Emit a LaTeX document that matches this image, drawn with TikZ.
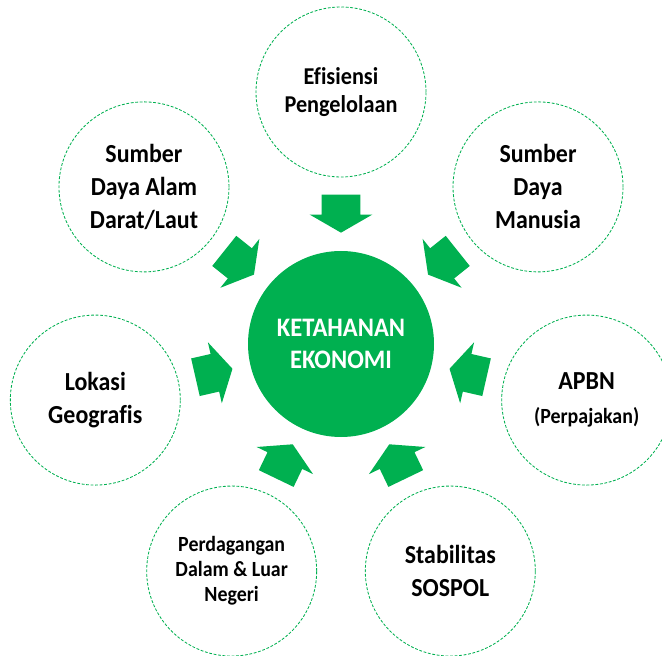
\documentclass[tikz,border=0pt]{standalone}
\usepackage{fontspec}
\setmainfont{Carlito}[FakeStretch=0.92, Ligatures=NoCommon]
\usepackage{tikz}
\usetikzlibrary{shapes.arrows,positioning}
\definecolor{kegreen}{RGB}{0,176,80}
\tikzstyle{core} = [circle, minimum size=4.65cm, fill=kegreen, text=white, align=center, font=\fontsize{19}{23}\selectfont\bfseries]
\tikzstyle{factor} = [circle, minimum size=4.25cm, draw=kegreen, line width=0.6pt, dash pattern=on 2pt off 1.2pt, align=center, font=\fontsize{18.5}{23.5}\selectfont\bfseries]
\tikzstyle{push} = [single arrow, fill=kegreen, inner xsep=0pt, inner ysep=0.475cm, minimum height=0.95cm, single arrow head extend=0.3cm, single arrow tip angle=120, anchor=tip]

\begin{document}
\begin{tikzpicture}
\useasboundingbox (-8.525,-7.775) rectangle (8.025,8.6);
% center
\node (ketahanan) [core] at (0,0) {KETAHANAN\\EKONOMI};

% factors round the center
\node (efisiensi) [factor, font=\fontsize{17.2}{20}\selectfont\bfseries] at (90:6.3cm) {Efisiensi\\Pengelolaan};
\node (sda) [factor] at (141.43:6.3cm) {Sumber\\Daya Alam\\Darat/Laut};
\node (lokasi) [factor] at (192.86:6.3cm) {Lokasi\\Geografis};
\node (dagang) [factor, font=\fontsize{15.4}{17.8}\selectfont\bfseries] at (244.29:6.3cm) {Perdagangan\\Dalam \& Luar\\Negeri};
\node (sospol) [factor] at (295.71:6.3cm) {Stabilitas\\SOSPOL};
\node (apbn) [factor] at (347.14:6.3cm) {APBN\\[1pt]{\fontsize{15.4}{17}\selectfont(Perpajakan)}};
\node (sdm) [factor] at (38.57:6.3cm) {Sumber\\Daya\\Manusia};

% block arrows into the center
\node (arrefisiensi) [push, rotate=270] at (90:2.775cm) {};
\node (arrsda) [push, rotate=321.43] at (141.43:2.775cm) {};
\node (arrlokasi) [push, rotate=12.86] at (192.86:2.775cm) {};
\node (arrdagang) [push, rotate=64.29] at (244.29:2.775cm) {};
\node (arrsospol) [push, rotate=115.71] at (295.71:2.775cm) {};
\node (arrapbn) [push, rotate=167.14] at (347.14:2.775cm) {};
\node (arrsdm) [push, rotate=218.57] at (38.57:2.775cm) {};
\end{tikzpicture}
\end{document}
